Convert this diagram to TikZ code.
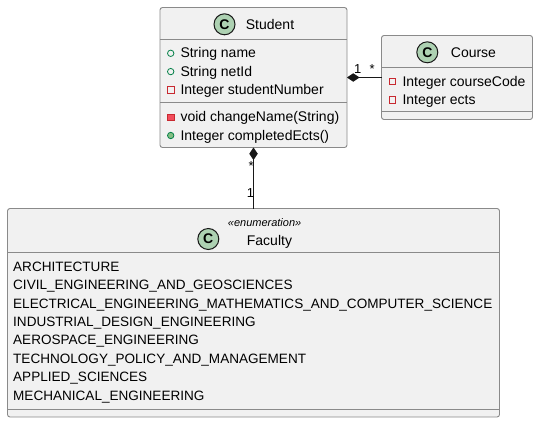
\documentclass[tikz,border=0pt]{standalone}
\usepackage{fontspec}
\setmainfont{Liberation Sans}
\usetikzlibrary{arrows.meta}
\definecolor{boxfill}{HTML}{F1F1F1}
\definecolor{boxline}{HTML}{181818}
\definecolor{edgeline}{HTML}{8A8A8A}
\definecolor{cfill}{HTML}{ADD1B2}
\definecolor{pubc}{HTML}{038048}
\definecolor{pubfill}{HTML}{84BE84}
\definecolor{privc}{HTML}{C82930}
\definecolor{privfill}{HTML}{F24D5C}
\tikzset{
  classbox/.style={draw=edgeline, fill=boxfill, line width=0.9pt, rounded corners=2.5pt, inner sep=0pt, outer sep=0pt},
  sepline/.style={draw=edgeline, line width=0.9pt},
  member/.style={anchor=base west, inner sep=0pt, font=\fontsize{14}{16}\selectfont, text=black},
  enumitem/.style={anchor=base west, inner sep=0pt, font=\fontsize{13.55}{16}\selectfont, text=black},
  ctitle/.style={anchor=base west, inner sep=0pt, font=\fontsize{14}{16}\selectfont, text=black},
  stereo/.style={anchor=base west, inner sep=0pt, font=\fontsize{11}{13}\selectfont\itshape, text=black},
  cmark/.style={circle, draw=boxline, fill=cfill, line width=1pt, minimum size=21pt, inner sep=0pt, font=\fontsize{14}{14}\selectfont\bfseries},
  mult/.style={anchor=base west, inner sep=0pt, font=\fontsize{13}{15}\selectfont, text=black},
  comp/.style={draw=boxline, line width=1pt, -{Diamond[length=12.5pt,width=8.5pt]}},
  pubattr/.pic={\draw[pubc, line width=0.8pt] (0,0) circle (3.2pt);},
  privattr/.pic={\draw[privc, line width=0.8pt] (-3.2pt,-3.2pt) rectangle (3.2pt,3.2pt);},
  pubmeth/.pic={\draw[pubc, fill=pubfill, line width=0.8pt] (0,0) circle (3.2pt);},
  privmeth/.pic={\draw[privc, fill=privfill, line width=0.8pt] (-3.2pt,-3.2pt) rectangle (3.2pt,3.2pt);}
}
\begin{document}
\begin{tikzpicture}[x=1pt,y=-1pt]
\useasboundingbox[fill=white] (0,0) rectangle (538,423);

% Student
\node[classbox, minimum width=187pt, minimum height=140pt] (student) at (253.5,77.5) {};
\draw[sepline] (160,39) -- (347,39);
\draw[sepline] (160,102.5) -- (347,102.5);
\node[cmark] (studentc) at (224.5,24.3) {C};
\node[ctitle] (studentt) at (245.7,29) {Student};
\pic at (170.7,53.3) {pubattr};
\node[member] (s1) at (180.3,57.7) {String name};
\pic at (170.7,71.6) {pubattr};
\node[member] (s2) at (180.3,76) {String netId};
\pic at (170.7,89.8) {privattr};
\node[member] (s3) at (180.3,94.3) {Integer studentNumber};
\pic at (170.7,117.2) {privmeth};
\node[member] (s4) at (180.3,121.7) {void changeName(String)};
\pic at (170.7,135.5) {pubmeth};
\node[member] (s5) at (180.3,140) {Integer completedEcts()};

% Course
\node[classbox, minimum width=151pt, minimum height=84pt] (course) at (457,77.5) {};
\draw[sepline] (381.5,67.5) -- (532.5,67.5);
\draw[sepline] (381.5,111.5) -- (532.5,111.5);
\node[cmark] (coursec) at (427.3,52.3) {C};
\node[ctitle] (courset) at (450.7,57) {Course};
\pic at (392.3,81.5) {privattr};
\node[member] (c1) at (402.3,86) {Integer courseCode};
\pic at (392.3,99.8) {privattr};
\node[member] (c2) at (402.3,104.3) {Integer ects};

% Faculty
\node[classbox, minimum width=492pt, minimum height=208.5pt] (faculty) at (253.5,312.75) {};
\draw[sepline] (7.5,252.5) -- (499.5,252.5);
\draw[sepline] (7.5,409.3) -- (499.5,409.3);
\node[cmark] (facultyc) at (208.3,239) {C};
\node[stereo] (facultys) at (227.7,226.7) {«enumeration»};
\node[ctitle] (facultyt) at (246.7,245) {Faculty};
\node[enumitem] (f1) at (13,271.2) {ARCHITECTURE};
\node[enumitem] (f2) at (13,289.6) {CIVIL\_ENGINEERING\_AND\_GEOSCIENCES};
\node[enumitem] (f3) at (13,308) {ELECTRICAL\_ENGINEERING\_MATHEMATICS\_AND\_COMPUTER\_SCIENCE};
\node[enumitem] (f4) at (13,326.4) {INDUSTRIAL\_DESIGN\_ENGINEERING};
\node[enumitem] (f5) at (13,344.8) {AEROSPACE\_ENGINEERING};
\node[enumitem] (f6) at (13,363.2) {TECHNOLOGY\_POLICY\_AND\_MANAGEMENT};
\node[enumitem] (f7) at (13,381.6) {APPLIED\_SCIENCES};
\node[enumitem] (f8) at (13,400) {MECHANICAL\_ENGINEERING};

% Connectors
\draw[comp] (course.west) -- (student.east);
\draw[comp] (faculty.north) -- (student.south);
\node[mult] (m1) at (354,73.3) {1};
\node[mult] (m2) at (369.3,73.3) {*};
\node[mult] (m3) at (248.3,170) {*};
\node[mult] (m4) at (246.7,197.3) {1};
\end{tikzpicture}
\end{document}
